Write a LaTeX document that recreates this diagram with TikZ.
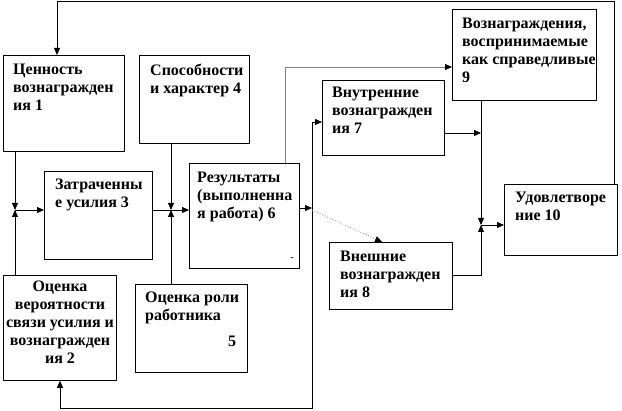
\documentclass[tikz,border=0pt]{standalone}
\usepackage{fontspec}
\setmainfont{Liberation Serif}
\usetikzlibrary{arrows.meta}
\tikzset{
  box/.style={draw, line width=0.8pt, inner sep=0pt, anchor=north west},
  txt/.style={anchor=north west, inner sep=0pt, align=left, font=\fontsize{16}{18}\selectfont\bfseries},
  ctxt/.style={anchor=north, inner sep=0pt, align=center, font=\fontsize{16}{18}\selectfont\bfseries},
  conn/.style={line width=0.8pt},
  arr/.style={line width=0.8pt, -{Triangle[length=7pt,width=6pt]}},
  grayarr/.style={line width=0.8pt, draw=gray, -{Triangle[length=7pt,width=6pt,color=black,fill=black]}},
  dotarr/.style={line width=0.8pt, draw=gray, dotted, -{Triangle[length=7pt,width=6pt,color=black,fill=black]}}
}
\begin{document}
\begin{tikzpicture}[x=1pt,y=-1pt]
\useasboundingbox (0,0) rectangle (622,411);
% boxes
\node[box, minimum width=121pt, minimum height=96pt] (b1) at (3,55) {};
\node[box, minimum width=110pt, minimum height=88pt] (b4) at (139,55) {};
\node[box, minimum width=108pt, minimum height=88pt] (b3) at (44,171) {};
\node[box, minimum width=110pt, minimum height=105pt] (b6) at (189,163) {};
\node[box, minimum width=113pt, minimum height=105pt] (b2) at (3,275) {};
\node[box, minimum width=112pt, minimum height=88pt] (b5) at (135,284) {};
\node[box, minimum width=144pt, minimum height=91pt] (b9) at (452,9) {};
\node[box, minimum width=122pt, minimum height=75pt] (b7) at (322,80) {};
\node[box, minimum width=113pt, minimum height=71pt] (b10) at (504,184) {};
\node[box, minimum width=123pt, minimum height=67pt] (b8) at (329,242) {};
% texts
\node[txt] (t1) at (13,64) {Ценность\\вознагражден\\ия 1};
\node[txt] (t4) at (150,64) {Способности\\и характер 4};
\node[txt] (t3) at (55,179) {Затраченны\\е усилия 3};
\node[txt] (t6) at (197,172) {Результаты\\(выполненна\\я работа) 6};
\node[inner sep=0pt, font=\fontsize{10}{10}\selectfont\bfseries] (t6d) at (292,259) {-};
\node[ctxt] (t2) at (60,281) {Оценка\\вероятности\\связи усилия и\\вознагражден\\ия 2};
\node[txt] (t5) at (145,292) {Оценка роли\\работника};
\node[anchor=base, inner sep=0pt, font=\fontsize{16}{18}\selectfont\bfseries] (t5n) at (232,347) {5};
\node[txt] (t9) at (462,18) {Вознаграждения,\\воспринимаемые\\как справедливые\\9};
\node[txt] (t7) at (332,87) {Внутренние\\вознагражден\\ия 7};
\node[txt] (t10) at (515,192) {Удовлетворе\\ние 10};
\node[txt] (t8) at (340,251) {Внешние\\вознагражден\\ия 8};
% junctions
\coordinate (j1) at (15,210);
\coordinate (j2) at (171,210);
\coordinate (j3) at (481,225);
\coordinate (j4) at (312,208);
\coordinate (top1) at (57,1);
% feedback from 10 to 1
\draw[arr] (b10.north east) ++(-3,0) |- (top1) -- (b1.north west -| top1);
% 1 and 2 to junction, junction to 3
\draw[arr] (b1.south west -| j1) -- (j1);
\draw[arr] (b2.north west -| j1) -- (j1);
\draw[arr] (j1) -- (b3.west |- j1);
% 4 and 5 to junction, 3 to 6
\draw[arr] (b4.south west -| j2) -- (j2);
\draw[arr] (b5.north west -| j2) -- (j2);
\draw[arr] (b3.east |- j2) -- (b6.west |- j2);
% 6 to loop
\draw[arr] (b6.east |- j4) -- (j4);
\draw[arr] (j4) |- (b7.west |- 0,122);
\draw[arr] (j4) |- (60,408) -- (b2.south west -| 60,0);
% dotted 6 to 8
\draw[dotarr] (j4) ++(0,2) -- (b8.north west -| 382,0);
% gray 6 to 9
\draw[grayarr] (b6.north west -| 285,0) |- (b9.west |- 0,67);
% 7, 8, 9 to junction 3, then to 10
\draw[arr] (b7.east |- 0,133) -- (j3 |- 0,133);
\draw[arr] (b9.south west -| j3) -- (j3);
\draw[arr] (b8.east |- 0,275) -| (j3);
\draw[arr] (j3) -- (b10.west |- j3);
\end{tikzpicture}
\end{document}
